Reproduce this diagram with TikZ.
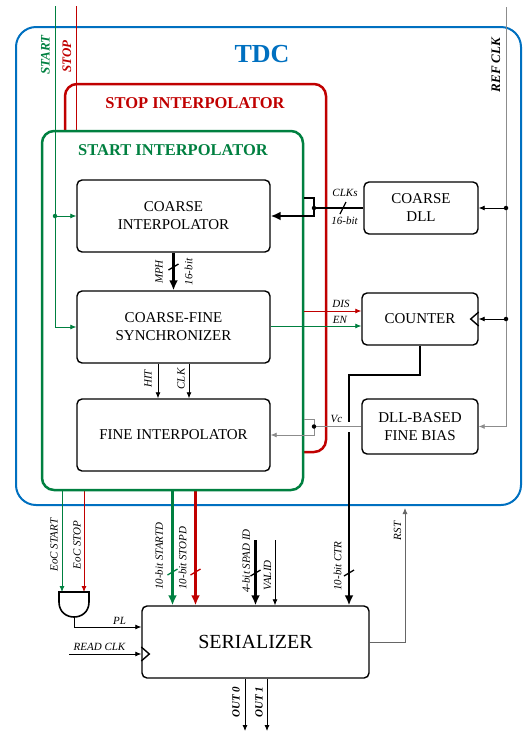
\documentclass[tikz,border=0pt]{standalone}
\usepackage{fontspec}
\setmainfont{Liberation Serif}
\usetikzlibrary{arrows.meta}
\definecolor{tdcblue}{RGB}{0,112,192}
\definecolor{stopred}{RGB}{192,0,0}
\definecolor{startgreen}{RGB}{0,128,64}
\definecolor{clkgray}{RGB}{140,140,140}
\pgfdeclarelayer{backlayer}
\pgfdeclarelayer{framelayer}
\pgfdeclarelayer{nodelayer}
\pgfsetlayers{backlayer,framelayer,main,nodelayer}
\tikzstyle{framebox}=[rounded corners=12pt, line width=2.5pt, inner sep=0pt]
\tikzstyle{block}=[draw=black, line width=1.4pt, rounded corners=5pt, align=center, inner sep=0pt, font=\fontsize{15}{18}\selectfont]
\tikzstyle{heading}=[inner sep=0pt, font=\fontsize{16.5}{18}\selectfont\bfseries]
\tikzstyle{sig}=[inner sep=0pt, font=\fontsize{11}{12}\selectfont\itshape]
\tikzstyle{vsig}=[sig, rotate=90]
\tikzstyle{portlbl}=[inner sep=0pt, rotate=90, font=\fontsize{13}{14}\selectfont\bfseries\itshape]
\tikzstyle{wire}=[line width=0.8pt]
\tikzstyle{bus}=[line width=2.5pt]
\tikzstyle{arr}=[-{Latex[length=6pt,width=5pt]}]
\tikzstyle{busarr}=[-{Latex[length=10pt,width=9pt]}]
\tikzstyle{buscut}=[line width=1.3pt]
\tikzstyle{junction}=[circle, fill, inner sep=0pt, minimum size=4.5pt]

\begin{document}
\begin{tikzpicture}[x=1pt, y=-1pt]
	\useasboundingbox (0,0) rectangle (524,732);
	\begin{pgfonlayer}{nodelayer}
		\node [style=block, minimum width=193pt, minimum height=72pt] (0) at (173.5,216) {COARSE\\INTERPOLATOR};
		\node [style=block, minimum width=193pt, minimum height=72pt] (1) at (173.5,327) {COARSE-FINE\\SYNCHRONIZER};
		\node [style=block, minimum width=193pt, minimum height=72pt] (2) at (173.5,435) {FINE INTERPOLATOR};
		\node [style=block, minimum width=114pt, minimum height=52pt] (3) at (421,208) {COARSE\\DLL};
		\node [style=block, minimum width=116pt, minimum height=52pt] (4) at (420,319) {COUNTER};
		\node [style=block, minimum width=116pt, minimum height=55pt] (5) at (420,426.5) {DLL-BASED\\FINE BIAS};
		\node [style=block, minimum width=227pt, minimum height=72pt, font=\fontsize{20}{24}\selectfont] (6) at (255.5,642) {SERIALIZER};
		\node [minimum width=30pt, minimum height=25pt, inner sep=0pt, outer sep=0pt] (7) at (74,604.5) {};
		\draw [line width=1.6pt] (59,592) -- (89,592) -- (89,602) .. controls (89,622) and (59,622) .. (59,602) -- cycle;
		% titles and port names
		\node [style=heading, text=tdcblue, font=\fontsize{26}{28}\selectfont\bfseries] (11) at (262,54) {TDC};
		\node [style=heading, text=stopred] (12) at (195,103) {STOP INTERPOLATOR};
		\node [style=heading, text=startgreen] (13) at (173,150.5) {START INTERPOLATOR};
		\node [style=portlbl, text=startgreen] (14) at (45.5,55) {START};
		\node [style=portlbl, text=stopred] (15) at (67,56.5) {STOP};
		\node [style=portlbl] (16) at (496,65) {REF CLK};
		% signal labels
		\node [style=sig] (17) at (345,192.5) {CLKs};
		\node [style=sig] (18) at (344.5,221) {16-bit};
		\node [style=vsig] (19) at (159,272) {MPH};
		\node [style=vsig] (20) at (188.5,272) {16-bit};
		\node [style=vsig] (21) at (148,379) {HIT};
		\node [style=vsig] (22) at (181,379) {CLK};
		\node [style=sig] (23) at (341,304) {DIS};
		\node [style=sig] (24) at (340,320) {EN};
		\node [style=sig] (25) at (336.5,419) {Vc};
		\node [style=vsig] (26) at (54,545) {EoC START};
		\node [style=vsig] (27) at (77,545) {EoC STOP};
		\node [style=vsig] (28) at (159,556) {10-bit STARTD};
		\node [style=vsig] (29) at (182.5,558) {10-bit STOPD};
		\node [style=vsig] (30) at (246,561) {4-bit SPAD ID};
		\node [style=vsig] (31) at (267.5,575.5) {VALID};
		\node [style=vsig] (32) at (337.5,566) {10-bit CTR};
		\node [style=vsig] (33) at (397.5,531) {RST};
		\node [style=sig] (34) at (119.5,621) {PL};
		\node [style=sig] (35) at (99.5,646.5) {READ CLK};
		\node [style=vsig, font=\fontsize{11}{12}\selectfont\bfseries\itshape] (36) at (236,702) {OUT 0};
		\node [style=vsig, font=\fontsize{11}{12}\selectfont\bfseries\itshape] (37) at (259,702) {OUT 1};
	\end{pgfonlayer}
	\begin{pgfonlayer}{backlayer}
		\node [style=framebox, draw=tdcblue, line width=2pt, rounded corners=20pt, minimum width=505pt, minimum height=478pt] (8) at (268.5,266) {};
		\node [style=framebox, draw=stopred, minimum width=261pt, minimum height=368pt] (9) at (195.5,268) {};
		\coordinate (sp) at (76,6);
		\coordinate (g2) at (84,592);
		\draw [style=wire, draw=stopred] (sp) -- (sp |- 9.south);
		\draw [style=wire, stopred, style=arr] (9.south -| g2) -- (g2);
		\draw [style=bus, stopred, style=busarr] (9.south) -- (9.south |- 6.north);
		\draw [style=buscut, stopred] (190.5,575) -- (200.5,569);
	\end{pgfonlayer}
	\begin{pgfonlayer}{framelayer}
		\node [style=framebox, draw=startgreen, fill=white, minimum width=261pt, minimum height=359pt] (10) at (172.5,310.5) {};
	\end{pgfonlayer}
	% START and REF CLK inputs
	\coordinate (st) at (55,6);
	\draw [style=wire, startgreen, style=arr] (st) |- (1.west);
	\draw [style=wire, startgreen, style=arr] (st |- 0.west) -- (0.west);
	\node [style=junction, startgreen] (38) at (st |- 0.west) {};
	\coordinate (rc) at (506,7);
	\draw [style=wire, clkgray, style=arr] (rc) |- (5.east);
	\draw [style=wire, style=arr] (rc |- 3.east) -- (3.east);
	\draw [style=wire, style=arr] (rc |- 4.east) -- (4.east);
	\node [style=junction] (39) at (rc |- 3.east) {};
	\node [style=junction] (40) at (rc |- 4.east) {};
	\draw [line width=1.4pt, line join=miter] ([yshift=7pt]4.east) -- ([xshift=-8pt]4.east) -- ([yshift=-7pt]4.east);
	% coarse clocks
	\coordinate (j1) at (314,208);
	\coordinate (j1b) at (304,198);
	\draw [style=bus, style=busarr] (3.west) -- (j1) |- (0.east);
	\draw [line width=2pt] (j1) |- (j1b);
	\node [style=junction] (41) at (j1) {};
	\draw [style=buscut] (340,214) -- (346,202);
	\draw [style=bus, style=busarr] (0.south) -- (1.north);
	\draw [style=buscut] (168.5,270) -- (178.5,264);
	\draw [style=wire, style=arr] ([xshift=-15.5pt]1.south) -- ([xshift=-15.5pt]2.north);
	\draw [style=wire, style=arr] ([xshift=15.5pt]1.south) -- ([xshift=15.5pt]2.north);
	% counter enables
	\coordinate (en) at ([yshift=-7pt]4.west);
	\coordinate (dis) at ([yshift=8pt]4.west);
	\draw [style=wire, startgreen, style=arr] (1.east |- en) -- (en);
	\draw [style=wire, stopred, style=arr] (10.east |- dis) -- (dis);
	% counter output with crossing gap
	\coordinate (c1) at (349,375);
	\coordinate (j2) at (314,426.5);
	\coordinate (j2b) at (304,419);
	\coordinate (gap) at (c1 |- j2);
	\draw [style=bus, style=busarr] (4.south) |- (c1) -- (c1 |- 6.north);
	\draw [style=buscut] (344,576) -- (354,570);
	\draw [draw=white, line width=5pt] ([yshift=5pt]gap) -- ([yshift=-5pt]gap);
	\draw [style=wire, clkgray, style=arr] (5.west) -- (j2) |- (2.east);
	\draw [style=wire, clkgray] (j2) |- (j2b);
	\node [style=junction] (42) at (j2) {};
	% data to serializer
	\draw [style=bus, startgreen, style=busarr] (10.south) -- (10.south |- 6.north);
	\draw [style=buscut, startgreen] (167.5,575) -- (177.5,569);
	\coordinate (g1) at (62,592);
	\draw [style=wire, startgreen, style=arr] (10.south -| g1) -- (g1);
	\coordinate (sa) at (255.5,540);
	\coordinate (va) at (275,540);
	\draw [style=bus, line width=2.2pt, style=busarr] (sa) -- (6.north);
	\draw [style=buscut] (250.5,576) -- (260.5,570);
	\draw [style=wire, style=arr] (va) -- (va |- 6.north);
	\coordinate (rs) at (405,508);
	\draw [style=wire, draw=black!60, style=arr] (6.east) -| (rs);
	\draw [style=wire, style=arr] (7.south) |- ([yshift=15pt]6.west);
	\coordinate (rd) at (69,654);
	\coordinate (ck) at (rd -| 6.west);
	\draw [style=wire, style=arr] (rd) -- (ck);
	\draw [line width=1.4pt, line join=miter] ([yshift=7pt]ck) -- ([xshift=8pt]ck) -- ([yshift=-7pt]ck);
	\coordinate (o0) at (245,731);
	\coordinate (o1) at (267,731);
	\draw [style=wire, style=arr] (o0 |- 6.south) -- (o0);
	\draw [style=wire, style=arr] (o1 |- 6.south) -- (o1);
\end{tikzpicture}
\end{document}
